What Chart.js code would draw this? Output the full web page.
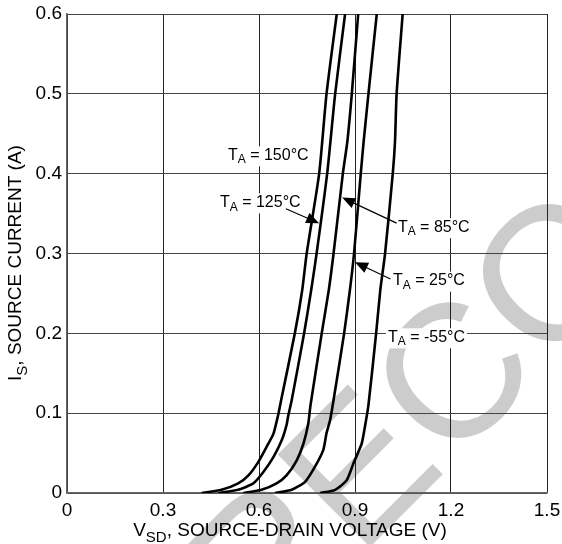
<!DOCTYPE html>
<html>
<head>
<meta charset="utf-8">
<script src="https://cdn.jsdelivr.net/npm/chart.js@4/dist/chart.umd.min.js"></script>
<style>
  html, body { margin: 0; padding: 0; background: #fff; }
  #wrap { width: 562px; height: 544px; position: relative; }
</style>
</head>
<body>
<div id="wrap"><canvas id="chart-vsd"></canvas></div>
<script>
// source-drain diode forward curves
const vsd150 = [0.421, 0.483, 0.535, 0.567, 0.598, 0.624, 0.645, 0.660, 0.669, 0.712, 0.735, 0.749, 0.788, 0.811, 0.843];
const is150  = [0, 0.004, 0.012, 0.022, 0.039, 0.058, 0.074, 0.098, 0.116, 0.2, 0.254, 0.3, 0.4, 0.5, 0.6];
const vsd125 = [0.473, 0.535, 0.582, 0.613, 0.645, 0.671, 0.686, 0.692, 0.702, 0.741, 0.763, 0.780, 0.813, 0.838, 0.869];
const is125  = [0, 0.004, 0.012, 0.026, 0.045, 0.066, 0.085, 0.098, 0.116, 0.2, 0.254, 0.3, 0.4, 0.5, 0.6];
const vsd85  = [0.551, 0.608, 0.655, 0.686, 0.718, 0.739, 0.754, 0.761, 0.796, 0.818, 0.833, 0.862, 0.876, 0.890, 0.910];
const is85   = [0, 0.004, 0.012, 0.022, 0.041, 0.062, 0.087, 0.11, 0.2, 0.254, 0.3, 0.4, 0.44, 0.5, 0.6];
const vsd25  = [0.650, 0.702, 0.744, 0.775, 0.801, 0.811, 0.822, 0.832, 0.866, 0.884, 0.897, 0.918, 0.927, 0.942, 0.968];
const is25   = [0, 0.004, 0.014, 0.033, 0.054, 0.075, 0.091, 0.114, 0.2, 0.254, 0.3, 0.4, 0.44, 0.5, 0.6];
const vsdM55 = [0.791, 0.838, 0.874, 0.895, 0.921, 0.931, 0.942, 0.966, 0.979, 0.994, 1.018, 1.025, 1.030, 1.049];
const isM55  = [0, 0.004, 0.016, 0.037, 0.062, 0.083, 0.11, 0.2, 0.254, 0.3, 0.4, 0.44, 0.5, 0.6];

const X_TICKS = [0, 0.3, 0.6, 0.9, 1.2, 1.5];
const Y_TICKS = [0, 0.1, 0.2, 0.3, 0.4, 0.5, 0.6];

// curve labels: temperature, text left edge (V), text middle (A), optional arrow start/tip
const LABEL_TEMPS = ["150", "125", "85", "25", "-55"];
const LABEL_X = [0.503, 0.478, 1.034, 1.019, 1.003];
const LABEL_Y = [0.423, 0.364, 0.333, 0.266, 0.195];
const ARROWS = [null, [0.684, 0.356, 0.788, 0.338], [1.030, 0.338, 0.860, 0.370], [1.011, 0.268, 0.900, 0.289], null];

const FONT = '"Liberation Sans", Arial, sans-serif';

const pairs = (xs, ys) => xs.map((v, i) => ({ x: v, y: ys[i] }));

// draw text runs, some as subscripts; returns total width
function drawRuns(ctx, runs, x, y, size, subSize, measureOnly) {
  let cx = x;
  runs.forEach(([txt, sub]) => {
    ctx.font = `${sub ? subSize : size}px ${FONT}`;
    if (!measureOnly) ctx.fillText(txt, cx, sub ? y + size * 0.3 : y);
    cx += ctx.measureText(txt).width;
  });
  return cx - x;
}

const watermark = {
  id: "watermark",
  beforeDraw(chart) {
    const ctx = chart.ctx;
    ctx.save();
    ctx.translate(262, 655);
    ctx.rotate(-Math.PI / 4);
    ctx.fillStyle = "rgba(0,0,0,0.2)";
    ctx.font = `190px ${FONT}`;
    ctx.textBaseline = "alphabetic";
    ctx.fillText("RECOMMENDED", 0, 0);
    ctx.restore();
  },
};

const annotations = {
  id: "annotations",
  afterDatasetsDraw(chart) {
    const { ctx, scales: { x, y } } = chart;
    ctx.save();
    ctx.textBaseline = "middle";
    ctx.textAlign = "left";
    LABEL_TEMPS.forEach((t, i) => {
      const runs = [["T", false], ["A", true], [` = ${t}°C`, false]];
      const px = x.getPixelForValue(LABEL_X[i]);
      const py = y.getPixelForValue(LABEL_Y[i]);
      const w = drawRuns(ctx, runs, px, py, 16, 12, true);
      ctx.fillStyle = "#fff";
      ctx.fillRect(px - 2, py - 9, w + 4, 20);
      ctx.fillStyle = "#000";
      drawRuns(ctx, runs, px, py, 16, 12, false);

      const a = ARROWS[i];
      if (!a) return;
      const x0 = x.getPixelForValue(a[0]), y0 = y.getPixelForValue(a[1]);
      const x1 = x.getPixelForValue(a[2]), y1 = y.getPixelForValue(a[3]);
      const ang = Math.atan2(y1 - y0, x1 - x0);
      ctx.strokeStyle = "#000";
      ctx.lineWidth = 1.2;
      ctx.beginPath();
      ctx.moveTo(x0, y0);
      ctx.lineTo(x1 - 10 * Math.cos(ang), y1 - 10 * Math.sin(ang));
      ctx.stroke();
      ctx.beginPath();
      ctx.moveTo(x1, y1);
      ctx.lineTo(x1 - 13 * Math.cos(ang) + 5.5 * Math.sin(ang), y1 - 13 * Math.sin(ang) - 5.5 * Math.cos(ang));
      ctx.lineTo(x1 - 13 * Math.cos(ang) - 5.5 * Math.sin(ang), y1 - 13 * Math.sin(ang) + 5.5 * Math.cos(ang));
      ctx.closePath();
      ctx.fill();
    });
    ctx.restore();
  },
  afterDraw(chart) {
    const { ctx, chartArea } = chart;
    ctx.save();
    ctx.fillStyle = "#000";
    ctx.textBaseline = "alphabetic";
    // x title
    const xRuns = [["V", false], ["SD", true], [", SOURCE-DRAIN VOLTAGE (V)", false]];
    const xw = drawRuns(ctx, xRuns, 0, 0, 19, 15, true);
    drawRuns(ctx, xRuns, (chartArea.left + chartArea.right) / 2 - xw / 2 - 17, 536, 19, 15, false);
    // y title
    const yRuns = [["I", false], ["S", true], [", SOURCE CURRENT (A)", false]];
    const yw = drawRuns(ctx, yRuns, 0, 0, 19, 15, true);
    ctx.translate(21, 263);
    ctx.rotate(-Math.PI / 2);
    drawRuns(ctx, yRuns, -yw / 2, 0, 19, 15, false);
    ctx.restore();
  },
};

const curve = (xs, ys) => ({
  data: pairs(xs, ys),
  borderColor: "#000",
  borderWidth: 2.6,
  pointRadius: 0,
  tension: 0.2,
  fill: false,
});

new Chart(document.getElementById("chart-vsd"), {
  type: "line",
  data: {
    datasets: [
      curve(vsd150, is150),
      curve(vsd125, is125),
      curve(vsd85, is85),
      curve(vsd25, is25),
      curve(vsdM55, isM55),
    ],
  },
  options: {
    responsive: true,
    maintainAspectRatio: false,
    animation: false,
    layout: { padding: { top: 14, right: 15, left: 0, bottom: 0 } },
    scales: {
      x: {
        type: "linear",
        min: 0,
        max: 1.5,
        afterBuildTicks: (s) => { s.ticks = X_TICKS.map((v) => ({ value: v })); },
        afterFit: (s) => { s.height = 51; s.paddingLeft = 0; s.paddingRight = 0; },
        ticks: {
          color: "#000",
          padding: 6,
          font: { family: FONT, size: 19 },
          callback: (v) => (v === 0 ? "0" : v.toFixed(1)),
        },
        grid: { color: "#222", lineWidth: 1, drawTicks: false },
        border: { color: "#666", width: 1.5 },
      },
      y: {
        type: "linear",
        min: 0,
        max: 0.6,
        afterBuildTicks: (s) => { s.ticks = Y_TICKS.map((v) => ({ value: v })); },
        afterFit: (s) => { s.width = 67; s.paddingTop = 0; s.paddingBottom = 0; },
        ticks: {
          color: "#000",
          padding: 5,
          font: { family: FONT, size: 19 },
          callback: (v) => (v === 0 ? "0" : v.toFixed(1)),
        },
        grid: { color: "#444", lineWidth: 1, drawTicks: false },
        border: { color: "#666", width: 1.5 },
      },
    },
    plugins: {
      legend: { display: false },
      tooltip: { enabled: false },
    },
  },
  plugins: [watermark, annotations],
});
</script>
</body>
</html>
